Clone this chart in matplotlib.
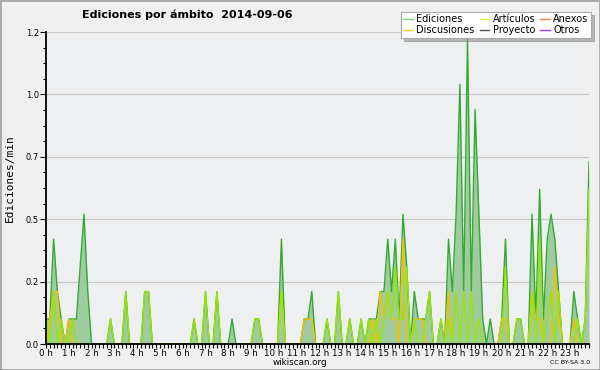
"""
Ediciones por ámbito - wikiscan, 2014-09-06
"""
import numpy as np
import matplotlib
matplotlib.use('Agg')
import matplotlib.pyplot as plt
from matplotlib.lines import Line2D
from matplotlib.patches import Rectangle

plt.rcParams['font.family'] = ['DejaVu Sans']

# ediciones por minuto, intervalos de 10 minutos (6 por hora)
ediciones = [
    0.10, 0.10, 0.42, 0.21, 0.10, 0.00, 0.10, 0.10, 0.10, 0.31, 0.52, 0.21,   # 0-1 h
    0.00, 0.00, 0.00, 0.00, 0.00, 0.10, 0.00, 0.00, 0.00, 0.21, 0.00, 0.00,   # 2-3 h
    0.00, 0.00, 0.21, 0.21, 0.00, 0.00, 0.00, 0.00, 0.00, 0.00, 0.00, 0.00,   # 4-5 h
    0.00, 0.00, 0.00, 0.10, 0.00, 0.00, 0.21, 0.00, 0.00, 0.21, 0.00, 0.00,   # 6-7 h
    0.00, 0.10, 0.00, 0.00, 0.00, 0.00, 0.00, 0.10, 0.10, 0.00, 0.00, 0.00,   # 8-9 h
    0.00, 0.00, 0.42, 0.00, 0.00, 0.00, 0.00, 0.00, 0.10, 0.10, 0.21, 0.00,   # 10-11 h
    0.00, 0.00, 0.10, 0.00, 0.00, 0.21, 0.00, 0.00, 0.10, 0.00, 0.00, 0.10,   # 12-13 h
    0.00, 0.10, 0.10, 0.10, 0.21, 0.21, 0.42, 0.21, 0.42, 0.10, 0.52, 0.31,   # 14-15 h
    0.00, 0.21, 0.10, 0.10, 0.10, 0.21, 0.00, 0.00, 0.10, 0.00, 0.42, 0.21,   # 16-17 h
    0.52, 1.04, 0.21, 1.22, 0.21, 0.94, 0.52, 0.10, 0.00, 0.10, 0.00, 0.00,   # 18-19 h
    0.10, 0.42, 0.00, 0.00, 0.10, 0.10, 0.00, 0.00, 0.52, 0.10, 0.62, 0.10,   # 20-21 h
    0.42, 0.52, 0.42, 0.21, 0.00, 0.00, 0.00, 0.21, 0.10, 0.00, 0.10, 0.73,   # 22-23 h
]

articulos = [
    0.10, 0.00, 0.21, 0.00, 0.10, 0.00, 0.00, 0.10, 0.00, 0.00, 0.00, 0.00,
    0.00, 0.00, 0.00, 0.00, 0.00, 0.10, 0.00, 0.00, 0.00, 0.21, 0.00, 0.00,
    0.00, 0.00, 0.21, 0.21, 0.00, 0.00, 0.00, 0.00, 0.00, 0.00, 0.00, 0.00,
    0.00, 0.00, 0.00, 0.10, 0.00, 0.00, 0.21, 0.00, 0.00, 0.21, 0.00, 0.00,
    0.00, 0.00, 0.00, 0.00, 0.00, 0.00, 0.00, 0.10, 0.10, 0.00, 0.00, 0.00,
    0.00, 0.00, 0.21, 0.00, 0.00, 0.00, 0.00, 0.00, 0.00, 0.00, 0.00, 0.00,
    0.00, 0.00, 0.10, 0.00, 0.00, 0.21, 0.00, 0.00, 0.10, 0.00, 0.00, 0.10,
    0.00, 0.10, 0.00, 0.10, 0.00, 0.10, 0.21, 0.10, 0.31, 0.10, 0.10, 0.31,
    0.00, 0.10, 0.00, 0.00, 0.10, 0.21, 0.00, 0.00, 0.10, 0.00, 0.10, 0.00,
    0.21, 0.00, 0.21, 0.00, 0.21, 0.00, 0.10, 0.00, 0.00, 0.00, 0.00, 0.00,
    0.00, 0.31, 0.00, 0.00, 0.10, 0.10, 0.00, 0.00, 0.21, 0.00, 0.42, 0.00,
    0.10, 0.21, 0.00, 0.21, 0.00, 0.00, 0.00, 0.00, 0.10, 0.00, 0.10, 0.62,
]

discusiones = [
    0.00, 0.10, 0.21, 0.21, 0.00, 0.00, 0.10, 0.00, 0.00, 0.00, 0.00, 0.00,
    0.00, 0.00, 0.00, 0.00, 0.00, 0.00, 0.00, 0.00, 0.00, 0.00, 0.00, 0.00,
    0.00, 0.00, 0.00, 0.00, 0.00, 0.00, 0.00, 0.00, 0.00, 0.00, 0.00, 0.00,
    0.00, 0.00, 0.00, 0.00, 0.00, 0.00, 0.00, 0.00, 0.00, 0.00, 0.00, 0.00,
    0.00, 0.00, 0.00, 0.00, 0.00, 0.00, 0.00, 0.00, 0.00, 0.00, 0.00, 0.00,
    0.00, 0.00, 0.21, 0.00, 0.00, 0.00, 0.00, 0.00, 0.10, 0.10, 0.10, 0.00,
    0.00, 0.00, 0.00, 0.00, 0.00, 0.00, 0.00, 0.00, 0.00, 0.00, 0.00, 0.00,
    0.00, 0.00, 0.10, 0.00, 0.21, 0.10, 0.21, 0.10, 0.10, 0.00, 0.42, 0.00,
    0.00, 0.10, 0.10, 0.10, 0.00, 0.00, 0.00, 0.00, 0.00, 0.00, 0.21, 0.00,
    0.00, 0.00, 0.00, 0.00, 0.00, 0.00, 0.00, 0.00, 0.00, 0.00, 0.00, 0.00,
    0.10, 0.10, 0.00, 0.00, 0.00, 0.00, 0.00, 0.00, 0.21, 0.10, 0.10, 0.00,
    0.00, 0.00, 0.31, 0.10, 0.00, 0.00, 0.00, 0.10, 0.00, 0.00, 0.00, 0.00,
]

horas = [f'{h} h' for h in range(24)]
y_ticks = [0.0, 0.25, 0.5, 0.75, 1.0, 1.25]
y_labels = ['0.0', '0.2', '0.5', '0.7', '1.0', '1.2']

leyenda = [
    ('Ediciones', '#77dd77'),
    ('Discusiones', '#ffcc33'),
    ('Artículos', '#ccff33'),
    ('Proyecto', '#555555'),
    ('Anexos', '#ff7f3f'),
    ('Otros', '#9933ff'),
]

fig = plt.figure(figsize=(6, 3.7), dpi=100, facecolor='#f0f0f0')
ax = fig.add_axes([46 / 600, 1 - 344 / 370, 543 / 600, 312 / 370])
ax.set_facecolor('#eeeff1')

x = np.arange(len(ediciones))
ax.fill_between(x, ediciones, 0, color='#9fcb9f', lw=0, zorder=2)
ax.plot(x, ediciones, color='#33aa33', lw=1.0, zorder=3)
ax.plot(x, discusiones, color='#f2c200', lw=1.0, zorder=4)
ax.plot(x, articulos, color='#99e600', lw=1.0, zorder=5)

ax.set_xlim(0, len(ediciones) - 1)
ax.set_ylim(0, 1.25)

ax.set_xticks(np.arange(0, len(ediciones), 6))
ax.set_xticklabels(horas, fontsize=6.3)
ax.set_xticks(x, minor=True)
ax.set_yticks(y_ticks)
ax.set_yticklabels(y_labels, fontsize=6)
ax.set_yticks(np.arange(0, 1.26, 0.0625), minor=True)

ax.tick_params(axis='x', which='both', direction='out', length=3, width=0.8, pad=0.5)
ax.tick_params(axis='y', which='major', direction='out', length=4, width=0.8, pad=1)
ax.tick_params(axis='y', which='minor', direction='out', length=2.5, width=0.8)

ax.grid(axis='y', which='major', color='#c8c8c8', lw=0.8, zorder=0)
ax.set_axisbelow(True)
for s in ['top', 'right']:
    ax.spines[s].set_visible(False)
for s in ['left', 'bottom']:
    ax.spines[s].set_linewidth(1.3)
    ax.spines[s].set_zorder(6)

fig.text(187 / 600, 1 - 15 / 370, 'Ediciones por ámbito  2014-09-06',
         ha='center', va='center', fontsize=8, fontweight='bold')
fig.text(10 / 600, 1 - 178 / 370, 'Ediciones/min', rotation=90,
         ha='center', va='center', fontsize=8, family='DejaVu Sans Mono')
fig.text(300 / 600, 1 - 362.5 / 370, 'wikiscan.org', ha='center', va='center', fontsize=6.3)
fig.text(590 / 600, 1 - 362.5 / 370, 'CC BY-SA 3.0', ha='right', va='center', fontsize=4.5)

handles = [Line2D([], [], color=c, lw=1) for _, c in leyenda]
leg = fig.legend(handles, [n for n, _ in leyenda], ncol=3, fontsize=7,
                 loc='upper right', bbox_to_anchor=(591 / 600, 1 - 12 / 370),
                 frameon=True, fancybox=False, shadow={'color': '#808080'},
                 borderpad=0.25, labelspacing=0.1, columnspacing=0.5,
                 handlelength=1.0, handletextpad=0.35, borderaxespad=0)
leg.get_frame().set_edgecolor('#aaaaaa')
leg.get_frame().set_linewidth(0.8)

# marco exterior
fig.patches.append(Rectangle((0, 0), 1, 1, transform=fig.transFigure,
                             fill=False, edgecolor='#a8a8a8', lw=2))

fig.savefig('out.png', dpi=100, facecolor=fig.get_facecolor())
